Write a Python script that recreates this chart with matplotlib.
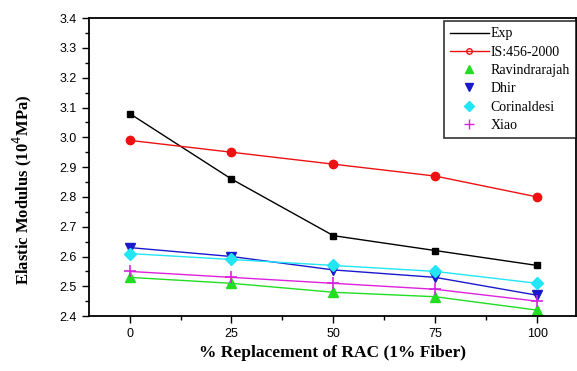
import matplotlib
matplotlib.use('Agg')
import matplotlib.pyplot as plt
from matplotlib.lines import Line2D
from matplotlib.ticker import MultipleLocator

# % replacement of RAC
x = [0, 25, 50, 75, 100]
exp = [3.08, 2.86, 2.67, 2.62, 2.57]
is456 = [2.99, 2.95, 2.91, 2.87, 2.80]
ravindrarajah = [2.53, 2.51, 2.48, 2.465, 2.42]
dhir = [2.63, 2.60, 2.555, 2.53, 2.47]
corinaldesi = [2.61, 2.59, 2.57, 2.55, 2.51]
xiao = [2.55, 2.53, 2.51, 2.49, 2.45]

fig = plt.figure(figsize=(5.77, 3.71), dpi=100)
ax = fig.add_axes([0.154, 0.148, 0.844, 0.803])

ax.plot(x, exp, color='black', marker='s', markersize=4, lw=1)
ax.plot(x, is456, color='#ee1111', marker='o', markersize=6, lw=1)
ax.plot(x, ravindrarajah, color='#22dd22', marker='^', markersize=7, lw=1)
ax.plot(x, dhir, color='#1a1acc', marker='v', markersize=7, lw=1)
ax.plot(x, corinaldesi, color='#22e5f5', marker='D', markersize=6, lw=1)
ax.plot(x, xiao, color='#dd22dd', marker='+', markersize=8, mew=1.2, lw=1)

ax.set_xlim(-10, 109.5)
ax.set_ylim(2.4, 3.4)
ax.set_xticks(x)
ax.xaxis.set_minor_locator(MultipleLocator(12.5))
ax.yaxis.set_major_locator(MultipleLocator(0.1))
ax.yaxis.set_minor_locator(MultipleLocator(0.05))
ax.tick_params(which='major', direction='out', length=5, width=1, labelsize=9)
ax.tick_params(which='minor', direction='out', length=3, width=1)
for lab in ax.get_xticklabels() + ax.get_yticklabels():
    lab.set_family('Liberation Sans')
for s in ax.spines.values():
    s.set_linewidth(1.3)

ax.set_xlabel('% Replacement of RAC (1% Fiber)', family='Liberation Serif',
              fontweight='bold', fontsize=12.5)
ax.set_ylabel('Elastic Modulus (10$^4$MPa)', family='Liberation Serif',
              fontweight='bold', fontsize=12)
ax.yaxis.set_label_coords(-0.112, 0.425)

handles = [
    Line2D([], [], color='black', lw=1),
    Line2D([], [], color='#ee1111', lw=1, marker='o', mfc='none', markersize=4),
    Line2D([], [], color='#22dd22', lw=0, marker='^', markersize=6),
    Line2D([], [], color='#1a1acc', lw=0, marker='v', markersize=6),
    Line2D([], [], color='#22e5f5', lw=0, marker='D', markersize=5),
    Line2D([], [], color='#dd22dd', lw=0, marker='+', markersize=7),
]
labels = ['Exp', 'IS:456-2000', 'Ravindrarajah', 'Dhir', 'Corinaldesi', 'Xiao']
leg = ax.legend(handles, labels, loc='upper right', bbox_to_anchor=(1.0, 0.99),
                prop={'family': 'Liberation Serif', 'size': 10},
                fancybox=False, edgecolor='black', handlelength=2.8,
                handletextpad=0.1, labelspacing=0.38, borderpad=0.45,
                borderaxespad=0.0)
leg.get_frame().set_linewidth(1.2)

fig.savefig('out.png', dpi=100)
